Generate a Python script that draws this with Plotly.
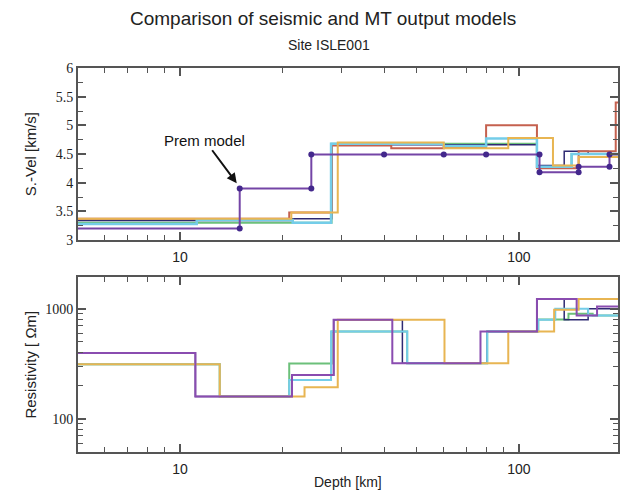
import math
import plotly.graph_objects as go

# ---------------- data ----------------
# Top panel: shear velocity (km/s) vs depth (km)
prem_depth = [4.9, 15, 15, 24.4, 24.4, 40, 60, 80, 115, 115, 150, 150, 185, 185, 200]
prem_vel = [3.2, 3.2, 3.9, 3.9, 4.49, 4.49, 4.49, 4.49, 4.49, 4.18, 4.18, 4.28, 4.28, 4.49, 4.49]

vel_green_tops = [5, 21.5, 28, 113, 143]
vel_green = [3.3, 3.3, 4.68, 4.28, 4.5]
vel_navy_tops = [5, 21.5, 28, 113, 136, 160]
vel_navy = [3.34, 3.37, 4.66, 4.3, 4.55, 4.5]
vel_red_tops = [5, 21, 28, 42, 60, 80, 113, 150, 193]
vel_red = [3.37, 3.48, 4.65, 4.6, 4.62, 5.0, 4.25, 4.55, 5.4]
vel_cyan_tops = [5, 11.2, 21.5, 27.9, 60, 80, 113, 143]
vel_cyan = [3.28, 3.35, 3.3, 4.68, 4.64, 4.77, 4.28, 4.5]
vel_orange_tops = [5, 21.3, 29.2, 60, 93, 126, 150]
vel_orange = [3.37, 3.48, 4.7, 4.6, 4.78, 4.3, 4.45]

# Bottom panel: resistivity (Ohm m) vs depth (km)
res_green_tops = [5, 13.1, 21, 28, 46.8, 80.6, 114, 140, 165]
res_green = [314, 160, 318, 622, 321, 622, 800, 900, 870]
res_navy_tops = [5, 11.1, 21.4, 28.4, 45.3, 80.6, 113, 136, 160]
res_navy = [396, 160, 251, 794, 321, 622, 1230, 794, 1000]
res_cyan_tops = [5, 13.1, 21, 27.9, 46.8, 80.6, 114, 128, 160]
res_cyan = [314, 160, 226, 622, 321, 622, 794, 1000, 870]
res_orange_tops = [5, 13.1, 23.3, 29.2, 60.3, 93, 127, 150]
res_orange = [314, 160, 194, 794, 321, 622, 980, 1225]
res_purple_tops = [5, 11.1, 21.4, 28.4, 42.3, 77, 113, 148, 170]
res_purple = [396, 160, 251, 794, 321, 622, 1230, 870, 1050]

depth_end = 200
x_ticks = [10, 100]
x_minor = [6, 7, 8, 9, 20, 30, 40, 50, 60, 70, 80, 90]
res_ticks = [100, 1000]
res_minor = [50, 60, 70, 80, 90, 200, 300, 400, 500, 600, 700, 800, 900]

# ---------------- colours ----------------
C_PURPLE = "#8a4cb0"
C_PREM = "#7445a6"
C_PREM_MK = "#43288c"
C_CYAN = "#74cde9"
C_ORANGE = "#e8b552"
C_RED = "#c5614f"
C_GREEN = "#6cc07a"
C_NAVY = "#2f2a72"


def steps(tops, vals):
    return list(tops) + [depth_end], list(vals) + [vals[-1]]


fig = go.Figure()


def add_step(tops, vals, color, xa, ya, width=2):
    x, y = steps(tops, vals)
    fig.add_trace(go.Scatter(x=x, y=y, mode="lines", line=dict(color=color, width=width, shape="hv"),
                             xaxis=xa, yaxis=ya, showlegend=False, hoverinfo="skip"))


# top panel
add_step(vel_green_tops, vel_green, C_GREEN, "x", "y")
add_step(vel_navy_tops, vel_navy, C_NAVY, "x", "y", 1.5)
add_step(vel_red_tops, vel_red, C_RED, "x", "y")
add_step(vel_cyan_tops, vel_cyan, C_CYAN, "x", "y", 2.5)
add_step(vel_orange_tops, vel_orange, C_ORANGE, "x", "y")
fig.add_trace(go.Scatter(x=prem_depth, y=prem_vel, mode="lines+markers",
                         line=dict(color=C_PREM, width=2),
                         marker=dict(color=C_PREM_MK, size=6),
                         xaxis="x", yaxis="y", showlegend=False, hoverinfo="skip"))

# bottom panel
add_step(res_green_tops, res_green, C_GREEN, "x2", "y2")
add_step(res_navy_tops, res_navy, C_NAVY, "x2", "y2", 1.5)
add_step(res_cyan_tops, res_cyan, C_CYAN, "x2", "y2")
add_step(res_orange_tops, res_orange, C_ORANGE, "x2", "y2")
add_step(res_purple_tops, res_purple, C_PURPLE, "x2", "y2")

AX = "#555555"
xrange = [math.log10(5), math.log10(196)]

xcommon = dict(type="log", range=xrange, showline=True, linecolor=AX, linewidth=2, mirror="allticks",
               ticks="inside", ticklen=8, tickwidth=1.5, tickcolor=AX,
               tickvals=x_ticks, ticktext=[str(v) for v in x_ticks],
               tickfont=dict(family="Liberation Sans, Arial", size=14, color="#222"),
               minor=dict(tickvals=x_minor, ticks="inside", ticklen=5, tickcolor=AX, tickwidth=1.2),
               showgrid=False, zeroline=False, ticklabelstandoff=3)

fig.update_layout(
    width=626, height=494,
    margin=dict(l=78, r=6, t=68, b=42),
    paper_bgcolor="white", plot_bgcolor="white",
    xaxis=dict(anchor="y", **xcommon),
    xaxis2=dict(anchor="y2", **xcommon),
    yaxis=dict(domain=[0.552, 1], range=[3, 6], dtick=0.5, showline=True, linecolor=AX, linewidth=2,
               mirror="allticks", ticks="inside", ticklen=8, tickwidth=1.5, tickcolor=AX,
               tickfont=dict(family="Liberation Serif, Times New Roman", size=14, color="#222"),
               minor=dict(dtick=0.25, ticks="inside", ticklen=5, tickcolor=AX, tickwidth=1.2),
               showgrid=False, zeroline=False, anchor="x"),
    yaxis2=dict(domain=[0, 0.456], type="log", range=[math.log10(50), math.log10(1950)],
                tickvals=res_ticks, ticktext=[str(v) for v in res_ticks],
                showline=True, linecolor=AX, linewidth=2,
                mirror="allticks", ticks="inside", ticklen=8, tickwidth=1.5, tickcolor=AX,
                tickfont=dict(family="Liberation Serif, Times New Roman", size=14, color="#222"),
                minor=dict(tickvals=res_minor, ticks="inside", ticklen=5, tickcolor=AX, tickwidth=1.2),
                showgrid=False, zeroline=False, anchor="x2"),
)

C = dict(xanchor="center", yanchor="middle")
ann = [
    dict(text="Comparison of seismic and MT output models", x=0.454, y=1.13, xref="paper", yref="paper",
         showarrow=False, font=dict(family="Liberation Sans, Arial", size=19, color="#222"), **C),
    dict(text="Site ISLE001", x=0.465, y=1.06, xref="paper", yref="paper",
         showarrow=False, font=dict(family="Liberation Sans, Arial", size=14, color="#222"), **C),
    dict(text="S.-Vel [km/s]", x=-0.0886, y=0.776, xref="paper", yref="paper", textangle=-90,
         showarrow=False, font=dict(family="Liberation Sans, Arial", size=15, color="#222"), **C),
    dict(text="Resistivity [ Ωm]", x=-0.0886, y=0.228, xref="paper", yref="paper", textangle=-90,
         showarrow=False, font=dict(family="Liberation Sans, Arial", size=15, color="#222"), **C),
    dict(text="Depth [km]", x=0.5, y=-0.078, xref="paper", yref="paper",
         showarrow=False, font=dict(family="Liberation Sans, Arial", size=14, color="#222"), **C),
    dict(text="Prem model", x=math.log10(14.7), y=3.99, xref="x", yref="y",
         showarrow=True, ax=-32, ay=-43, arrowhead=2, arrowsize=1, arrowwidth=2, arrowcolor="#111",
         font=dict(family="Liberation Sans, Arial", size=15, color="#111")),
]
fig.update_layout(annotations=ann)

fig.write_html("out.html", config={"displayModeBar": False},
               post_script="document.body.style.margin='0px';document.body.style.overflow='hidden';")
